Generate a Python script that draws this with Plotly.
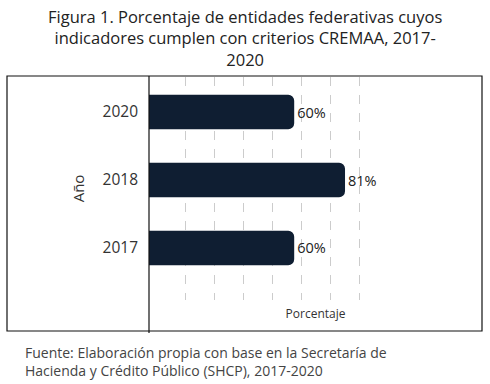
import plotly.graph_objects as go

years = ["2017", "2018", "2020"]
values = [60, 81, 60]
labels = ["60%", "81%", "60%"]
grid_vals = [15, 27, 39, 51, 63, 75, 87]

title_lines = ["Figura 1. Porcentaje de entidades federativas cuyos",
               "indicadores cumplen con criterios CREMAA, 2017-",
               "2020"]
footer_lines = ["Fuente: Elaboración propia con base en la Secretaría de",
                "Hacienda y Crédito Público (SHCP), 2017-2020"]

FONT = "Open Sans"
W, H = 490, 384
L, R, T, B = 149, 482, 77, 300  # plot area in pixels
pw, ph = R - L, B - T

def px(x):
    return (x - L) / pw

def py(y):
    return (B - y) / ph

fig = go.Figure(go.Bar(
    x=values, y=years, orientation="h",
    marker=dict(color="#0f1e32", line=dict(width=0)),
    width=0.51,
    text=labels, textposition="outside",
    textfont=dict(family=FONT, size=14.5, color="#222222"),
    cliponaxis=False,
))

annotations = [
    dict(text="<br>".join(title_lines), xref="paper", yref="paper",
         x=px(245), y=py(38), xanchor="center", yanchor="middle", align="center",
         showarrow=False, font=dict(family=FONT, size=16.5, color="#222222")),
    dict(text="<br>".join(footer_lines), xref="paper", yref="paper",
         x=px(23), y=py(361), xanchor="left", yanchor="middle", align="left",
         showarrow=False, font=dict(family=FONT, size=14, color="#444444")),
]

fig.update_layout(
    width=W, height=H,
    margin=dict(l=L, r=W - R, t=T, b=H - B),
    paper_bgcolor="white", plot_bgcolor="white",
    barcornerradius=6,
    showlegend=False,
    font=dict(family=FONT, color="#333333"),
    xaxis=dict(range=[0, 137.6], tickvals=grid_vals, showticklabels=False,
               showgrid=True, gridcolor="#cccccc", griddash="dash", gridwidth=1,
               zeroline=False, showline=False, ticks="",
               title=dict(text="Porcentaje", standoff=9,
                          font=dict(family=FONT, size=12, color="#333333"))),
    yaxis=dict(type="category", categoryorder="array", categoryarray=years,
               range=[-0.765, 2.515], showgrid=False, zeroline=False,
               showline=False, ticks="", ticklabelstandoff=10,
               tickfont=dict(family=FONT, size=15.5, color="#333333"),
               title=dict(text="Año", standoff=14,
                          font=dict(family=FONT, size=15, color="#333333"))),
    shapes=[
        dict(type="rect", xref="paper", yref="paper",
             x0=px(7), x1=px(482), y0=py(331), y1=py(76),
             line=dict(color="#111111", width=1.2), fillcolor="rgba(0,0,0,0)",
             layer="below"),
        dict(type="line", xref="paper", yref="paper",
             x0=0, x1=0, y0=py(333), y1=py(76),
             line=dict(color="#111111", width=1.2)),
    ],
    annotations=annotations,
)

fig.write_html("out.html", config={"displayModeBar": False},
               post_script="document.body.style.margin='0';document.body.style.padding='0';")
